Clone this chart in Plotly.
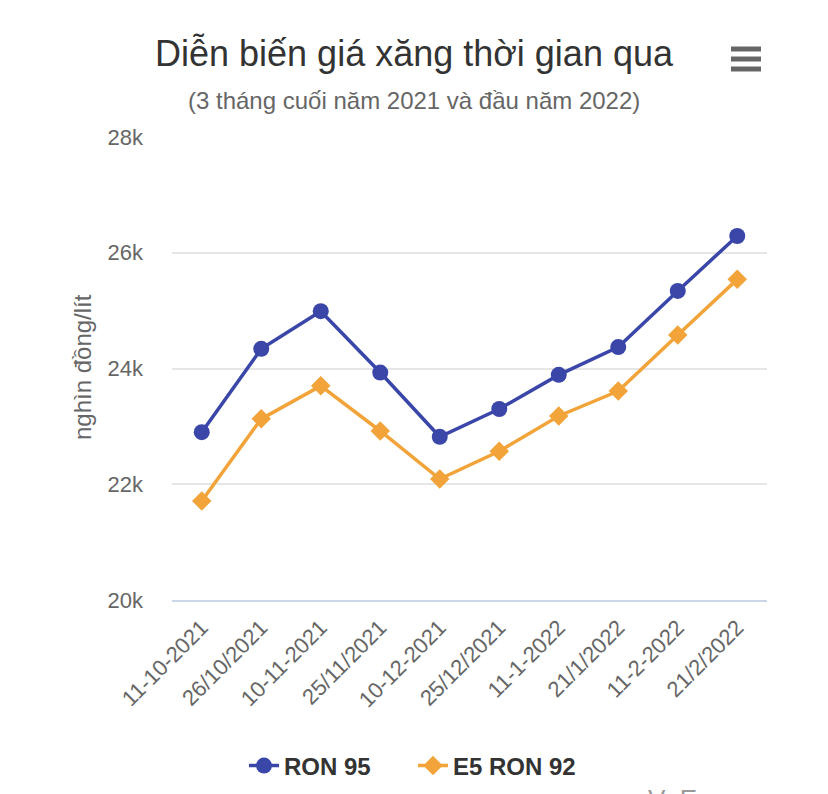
import plotly.graph_objects as go

dates = ["11-10-2021", "26/10/2021", "10-11-2021", "25/11/2021", "10-12-2021",
         "25/12/2021", "11-1-2022", "21/1/2022", "11-2-2022", "21/2/2022"]
ron95 = [22900, 24340, 24990, 23930, 22820, 23300, 23890, 24370, 25340, 26290]
e5_ron92 = [21710, 23130, 23700, 22920, 22090, 22570, 23180, 23610, 24580, 25540]

font_family = "Liberation Sans, Arial, sans-serif"

fig = go.Figure()
fig.add_trace(go.Scatter(x=dates, y=ron95, name="RON 95", mode="lines+markers",
                         line=dict(color="#3a47a9", width=3.5),
                         marker=dict(symbol="circle", size=16, color="#3a47a9")))
fig.add_trace(go.Scatter(x=dates, y=e5_ron92, name="E5 RON 92", mode="lines+markers",
                         line=dict(color="#f2a43a", width=3.5),
                         marker=dict(symbol="diamond", size=15, color="#f2a43a")))

fig.update_layout(
    width=828, height=794,
    margin=dict(l=164, r=69, t=129, b=202),
    paper_bgcolor="white", plot_bgcolor="white",
    font=dict(family=font_family, color="#666666"),
    title=dict(text="Diễn biến giá xăng thời gian qua", x=406 / 828, xanchor="center",
               xref="container", yref="container", y=1 - 45 / 794, yanchor="middle",
               font=dict(size=36, color="#333333", family=font_family)),
    showlegend=True,
    legend=dict(orientation="h", xref="container", yref="container",
                x=405 / 828, xanchor="center", y=1 - 758 / 794, yanchor="middle",
                font=dict(size=24, color="#333333", family=font_family, weight="bold"),
                itemwidth=30, entrywidth=124, tracegroupgap=0),
    xaxis=dict(type="category", range=[-0.5, len(dates) - 0.5], tickangle=-45,
               showgrid=False, showline=True, linecolor="#ccd6eb", linewidth=2,
               ticks="", tickfont=dict(size=22, color="#666666"),
               ticklabelstandoff=4, fixedrange=True),
    yaxis=dict(range=[20000, 28000], dtick=2000, tickformat="~s",
               showgrid=True, gridcolor="#e6e6e6", gridwidth=2,
               zeroline=False, ticks="", ticklabelstandoff=28,
               tickfont=dict(size=22, color="#666666"), fixedrange=True),
)

# subtitle
fig.add_annotation(text="(3 tháng cuối năm 2021 và đầu năm 2022)", xref="paper",
                   x=(406 - 164) / 595, xanchor="center", yref="paper", y=(592 - 92) / 463,
                   yanchor="middle", showarrow=False,
                   font=dict(size=24, color="#666666", family=font_family))
# y axis title
fig.add_annotation(text="nghìn đồng/lít", textangle=-90, xref="paper",
                   x=(74 - 164) / 595, xanchor="center", yref="paper",
                   y=(592 - 359) / 463, yanchor="middle", showarrow=False,
                   font=dict(size=24, color="#666666", family=font_family))
# cropped credit text
fig.add_annotation(text="VnExpress", xref="paper", x=(638 - 164) / 595, xanchor="left",
                   yref="paper", y=(592 - 774) / 463, yanchor="top", showarrow=False,
                   font=dict(size=26, color="#999999", family=font_family))

# menu icon
for py in [41, 51, 61]:
    yy = (592 - py) / 463
    fig.add_shape(type="line", xref="paper", yref="paper",
                  x0=(723 - 164) / 595, x1=(753 - 164) / 595, y0=yy, y1=yy,
                  line=dict(color="#666666", width=5))

fig.write_html("out.html", config={"displayModeBar": False})
